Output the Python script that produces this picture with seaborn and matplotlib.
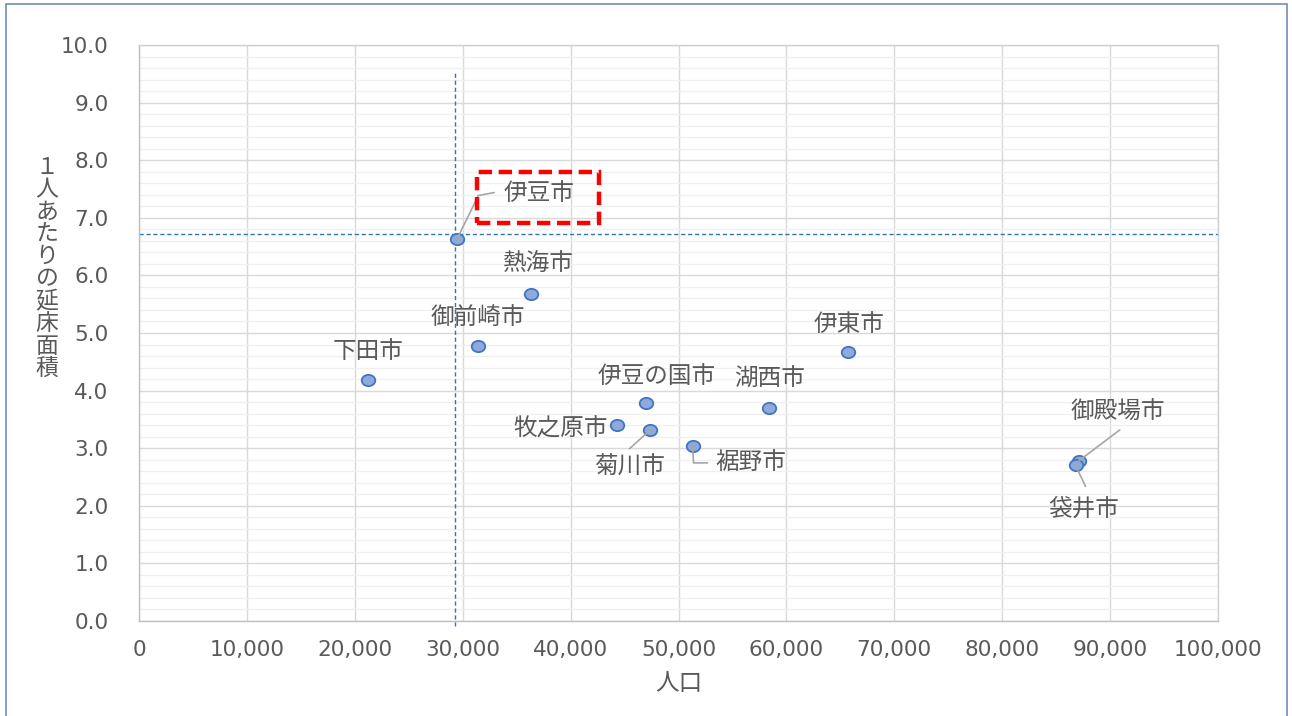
import matplotlib
matplotlib.use("Agg")
import matplotlib.pyplot as plt
import matplotlib.path as mpath
import seaborn as sns
import pandas as pd
from matplotlib.ticker import MultipleLocator, FuncFormatter
from matplotlib.patches import Rectangle
from matplotlib.lines import Line2D
from matplotlib.transforms import IdentityTransform, Affine2D

# City data: population vs. total floor area per person
cities = ["伊豆市", "下田市", "御前崎市", "熱海市", "伊東市", "伊豆の国市",
          "牧之原市", "菊川市", "裾野市", "湖西市", "御殿場市", "袋井市"]
population = [29500, 21200, 31400, 36300, 65700, 47000,
              44300, 47400, 51300, 58400, 87100, 86800]
floor_area = [6.64, 4.18, 4.77, 5.68, 4.67, 3.78,
              3.40, 3.32, 3.04, 3.69, 2.78, 2.70]

# Reference lines (averages)
ref_population = 29300
ref_floor_area = 6.72

x_label = "人口"
y_label = "１人あたりの延床面積"

df = pd.DataFrame({"city": cities, "pop": population, "area": floor_area})

sns.set_theme(style="white")
plt.rcParams["font.family"] = ["Noto Sans CJK JP", "DejaVu Sans"]

TXT = "#595959"
W, H = 1292, 716
fig = plt.figure(figsize=(W / 100, H / 100), dpi=100)
ax = fig.add_axes([139 / W, 1 - 621 / H, (1218 - 139) / W, (621 - 45) / H])

ax.set_xlim(0, 100000)
ax.set_ylim(0, 10)

# grid
ax.xaxis.set_major_locator(MultipleLocator(10000))
ax.yaxis.set_major_locator(MultipleLocator(1.0))
ax.yaxis.set_minor_locator(MultipleLocator(0.2))
ax.grid(which="major", color="#d9d9d9", lw=1.0, zorder=0)
ax.grid(which="minor", axis="y", color="#f0f0f0", lw=1.0, zorder=0)
ax.set_axisbelow(True)
for side, sp in ax.spines.items():
    sp.set_color("#d0d0d0" if side in ("top", "right") else "#bfbfbf")
    sp.set_linewidth(1.0)

ax.xaxis.set_major_formatter(FuncFormatter(lambda v, p: f"{int(v):,}"))
ax.yaxis.set_major_formatter(FuncFormatter(lambda v, p: f"{v:.1f}"))
ax.tick_params(axis="both", which="both", length=0, labelsize=15.5, labelcolor=TXT)
ax.tick_params(axis="y", pad=22)
ax.tick_params(axis="x", pad=14)
for lbl in ax.get_xticklabels() + ax.get_yticklabels():
    lbl.set_fontfamily("DejaVu Sans")

# dashed reference lines
ax.axhline(ref_floor_area, color="#2e75b6", lw=1.0, ls=(0, (3, 2)), zorder=2)
ax.vlines(ref_population, -0.08, 9.53, color="#2e75b6", lw=1.0, ls=(0, (3, 2)),
          zorder=2, clip_on=False)

# points (slightly oval markers)
oval = mpath.Path.unit_circle().transformed(Affine2D().scale(1.2, 1.0))
sns.scatterplot(data=df, x="pop", y="area", ax=ax, marker=oval, s=95,
                color="#8eaadb", edgecolor="#4472c4", linewidth=1.3,
                zorder=5, legend=False)
ax.set_xlabel("")
ax.set_ylabel("")

# label offsets from each marker, in pixels (dx, dy upward)
label_offsets = {
    "伊豆市": (82, 45), "下田市": (0, 29), "御前崎市": (0, 29),
    "熱海市": (8, 29), "伊東市": (1, 28), "伊豆の国市": (10, 27),
    "牧之原市": (-56, -4), "菊川市": (-21, -38), "裾野市": (58, -17),
    "湖西市": (0, 29), "御殿場市": (39, 49), "袋井市": (8, -44),
}
leader_paths = {
    "伊豆市": [(21, 43), (37, 46)],
    "菊川市": [(-21, -19)],
    "裾野市": [(1, -17), (15, -17)],
    "御殿場市": [(41, 31)],
    "袋井市": [(10, -21)],
}

for c, x, y in zip(cities, population, floor_area):
    dx, dy = label_offsets[c]
    ax.annotate(c, (x, y), xytext=(dx, dy), textcoords="offset pixels",
                ha="center", va="center", fontsize=17, color=TXT, zorder=6)
    px, py = ax.transData.transform((x, y))
    if c in leader_paths:
        xs = [px] + [px + a for a, b in leader_paths[c]]
        ys = [py] + [py + b for a, b in leader_paths[c]]
        fig.add_artist(Line2D(xs, ys, transform=IdentityTransform(),
                              color="#a6a6a6", lw=1.2, zorder=3))

# red highlight box around 伊豆市 label
hx, hy = ax.transData.transform((population[0], floor_area[0]))
fig.add_artist(Rectangle((hx + 20, hy + 16), 122, 51, transform=IdentityTransform(),
                         fill=False, ec="#ff0000", lw=3.2, ls=(0, (3.0, 1.5)),
                         zorder=7))

# axis titles
fig.text(678.5 / W, 1 - 683 / H, x_label, ha="center", va="center",
         fontsize=17, color=TXT)
for i, ch in enumerate(y_label):
    fig.text(47 / W, 1 - (167 + i * 22.4) / H, ch, ha="center", va="center",
             fontsize=16.5, color=TXT)

# outer chart border
fig.add_artist(Rectangle((6 / W, -0.05), (1287 - 6) / W, 1.05 - 4 / H,
                         transform=fig.transFigure, fill=False,
                         ec="#6f8fb8", lw=1.2))

fig.savefig("out.png", dpi=100)
